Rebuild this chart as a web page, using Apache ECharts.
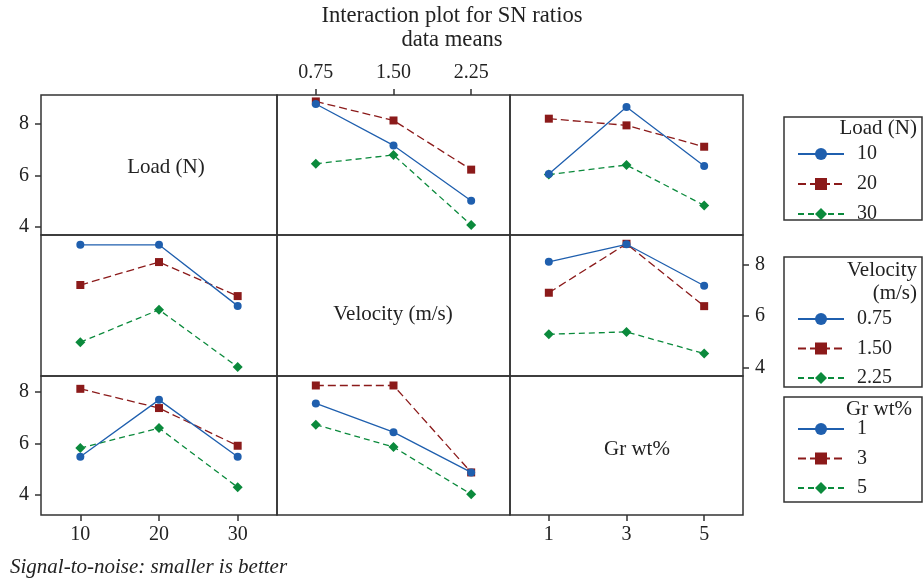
<!DOCTYPE html>
<html>
<head>
<meta charset="utf-8">
<script src="https://cdn.jsdelivr.net/npm/echarts@6/dist/echarts.min.js"></script>
<style>
  html, body { margin: 0; padding: 0; background: #fff; }
  #chart { width: 923px; height: 584px; }
</style>
</head>
<body>
<div id="chart"></div>
<script>
// factor levels (tick labels)
const loadLevels = ['10', '20', '30'];
const velocityLevels = ['0.75', '1.50', '2.25'];
const grLevels = ['1', '3', '5'];
const yTicks = [4, 6, 8];

// SN ratio means, one row per level of the legend factor
const loadByVelocity = [[8.78, 7.17, 5.02], [8.88, 8.14, 6.23], [6.46, 6.80, 4.08]];
const loadByGr = [[6.06, 8.66, 6.37], [8.21, 7.95, 7.12], [6.04, 6.41, 4.84]];
const velocityByLoad = [[8.76, 8.76, 6.39], [7.20, 8.09, 6.77], [4.98, 6.24, 4.02]];
const velocityByGr = [[8.10, 8.78, 7.17], [6.90, 8.80, 6.38], [5.29, 5.38, 4.54]];
const grByLoad = [[5.48, 7.70, 5.48], [8.13, 7.38, 5.91], [5.82, 6.60, 4.29]];
const grByVelocity = [[7.56, 6.44, 4.87], [8.26, 8.26, 4.87], [6.73, 5.86, 4.02]];

const factorNames = ['Load (N)', 'Velocity (m/s)', 'Gr wt%'];
const levels = [loadLevels, velocityLevels, grLevels];

const font = '"Liberation Serif", "DejaVu Serif", serif';
const ink = '#222';

// panel layout
const colLeft = [41, 277, 510];
const colWidth = [236, 233, 233];
const rowTop = [95, 235, 376];
const rowHeight = [140, 141, 139];
const rowRange = [[3.69, 9.13], [3.67, 9.14], [3.21, 8.63]];

const lineStyles = [
  { color: '#1f5fae', type: 'solid', symbol: 'circle', size: 8 },
  { color: '#8b1a1a', type: [8, 4], symbol: 'rect', size: 8 },
  { color: '#0b8a3c', type: [6, 4], symbol: 'diamond', size: 10 }
];

const panels = [
  { row: 0, col: 1, lines: loadByVelocity },
  { row: 0, col: 2, lines: loadByGr },
  { row: 1, col: 0, lines: velocityByLoad },
  { row: 1, col: 2, lines: velocityByGr },
  { row: 2, col: 0, lines: grByLoad },
  { row: 2, col: 1, lines: grByVelocity }
];

const grid = [], xAxis = [], yAxis = [], series = [];
for (let r = 0; r < 3; r++) {
  for (let c = 0; c < 3; c++) {
    const i = r * 3 + c;
    grid.push({
      left: colLeft[c], top: rowTop[r], width: colWidth[c], height: rowHeight[r],
      show: true, borderColor: '#333', borderWidth: 1.5, backgroundColor: 'transparent'
    });
    const showX = (r === 0 && c === 1) || (r === 2 && c !== 1);
    xAxis.push({
      type: 'category', gridIndex: i, data: levels[c], boundaryGap: true,
      position: r === 0 ? 'top' : 'bottom',
      axisLine: { show: false },
      axisTick: { show: showX, alignWithLabel: true, length: 6, lineStyle: { color: '#333', width: 1.5 } },
      axisLabel: { show: showX, margin: r === 0 ? 12 : 10, fontFamily: font, fontSize: 20, color: ink },
      splitLine: { show: false }
    });
    const showY = (c === 0 && r !== 1) || (r === 1 && c === 2);
    yAxis.push({
      type: 'value', gridIndex: i, min: rowRange[r][0], max: rowRange[r][1],
      position: r === 1 ? 'right' : 'left',
      axisLine: { show: false },
      axisTick: { show: showY, customValues: yTicks, length: 6, lineStyle: { color: '#333', width: 1.5 } },
      axisLabel: { show: showY, customValues: yTicks, margin: 12, fontFamily: font, fontSize: 20, color: ink },
      splitLine: { show: false }
    });
  }
}

panels.forEach(p => {
  const i = p.row * 3 + p.col;
  p.lines.forEach((vals, k) => {
    const s = lineStyles[k];
    series.push({
      type: 'line', name: levels[p.row][k], xAxisIndex: i, yAxisIndex: i,
      data: vals, symbol: s.symbol, symbolSize: s.size, showSymbol: true,
      lineStyle: { color: s.color, width: 1.3, type: s.type },
      itemStyle: { color: s.color },
      emphasis: { disabled: true }, animation: false, z: 3 - k + 2
    });
  });
});

const legendBase = {
  orient: 'vertical', left: 792, itemWidth: 46, itemHeight: 15, itemGap: 10,
  selectedMode: false,
  textStyle: { fontFamily: font, fontSize: 20, color: ink, lineHeight: 20, padding: [0, 0, 0, 8] }
};
const legend = [
  Object.assign({}, legendBase, { data: loadLevels, top: 139 }),
  Object.assign({}, legendBase, { data: velocityLevels, top: 304, itemGap: 9.5 }),
  Object.assign({}, legendBase, { data: grLevels, top: 414, itemGap: 9.5 })
];

const txt = (x, y, text, extra) => ({
  type: 'text', x: x, y: y, silent: true,
  style: Object.assign({ text: text, font: '21px ' + font, fill: ink, textAlign: 'center', textVerticalAlign: 'middle' }, extra || {})
});
const box = (y, h) => ({
  type: 'rect', shape: { x: 784, y: y, width: 138, height: h }, silent: true,
  style: { fill: 'none', stroke: '#333', lineWidth: 1.5 }
});

const graphic = [
  txt(452, 16, 'Interaction plot for SN ratios', { font: '22.6px ' + font }),
  txt(452, 40, 'data means', { font: '22.6px ' + font }),
  txt(166, 167, factorNames[0]),
  txt(393, 314, factorNames[1]),
  txt(637, 449, factorNames[2]),
  box(117, 103), box(257, 130), box(397, 105),
  txt(917, 128, 'Load (N)', { textAlign: 'right' }),
  txt(917, 270, 'Velocity', { textAlign: 'right' }),
  txt(917, 293, '(m/s)', { textAlign: 'right' }),
  txt(912, 409, 'Gr wt%', { textAlign: 'right' }),
  txt(10, 567, 'Signal-to-noise: smaller is better', { textAlign: 'left', font: 'italic 21px ' + font })
];

const chart = echarts.init(document.getElementById('chart'));
chart.setOption({
  animation: false,
  grid: grid, xAxis: xAxis, yAxis: yAxis, series: series,
  legend: legend, graphic: graphic
});
</script>
</body>
</html>
